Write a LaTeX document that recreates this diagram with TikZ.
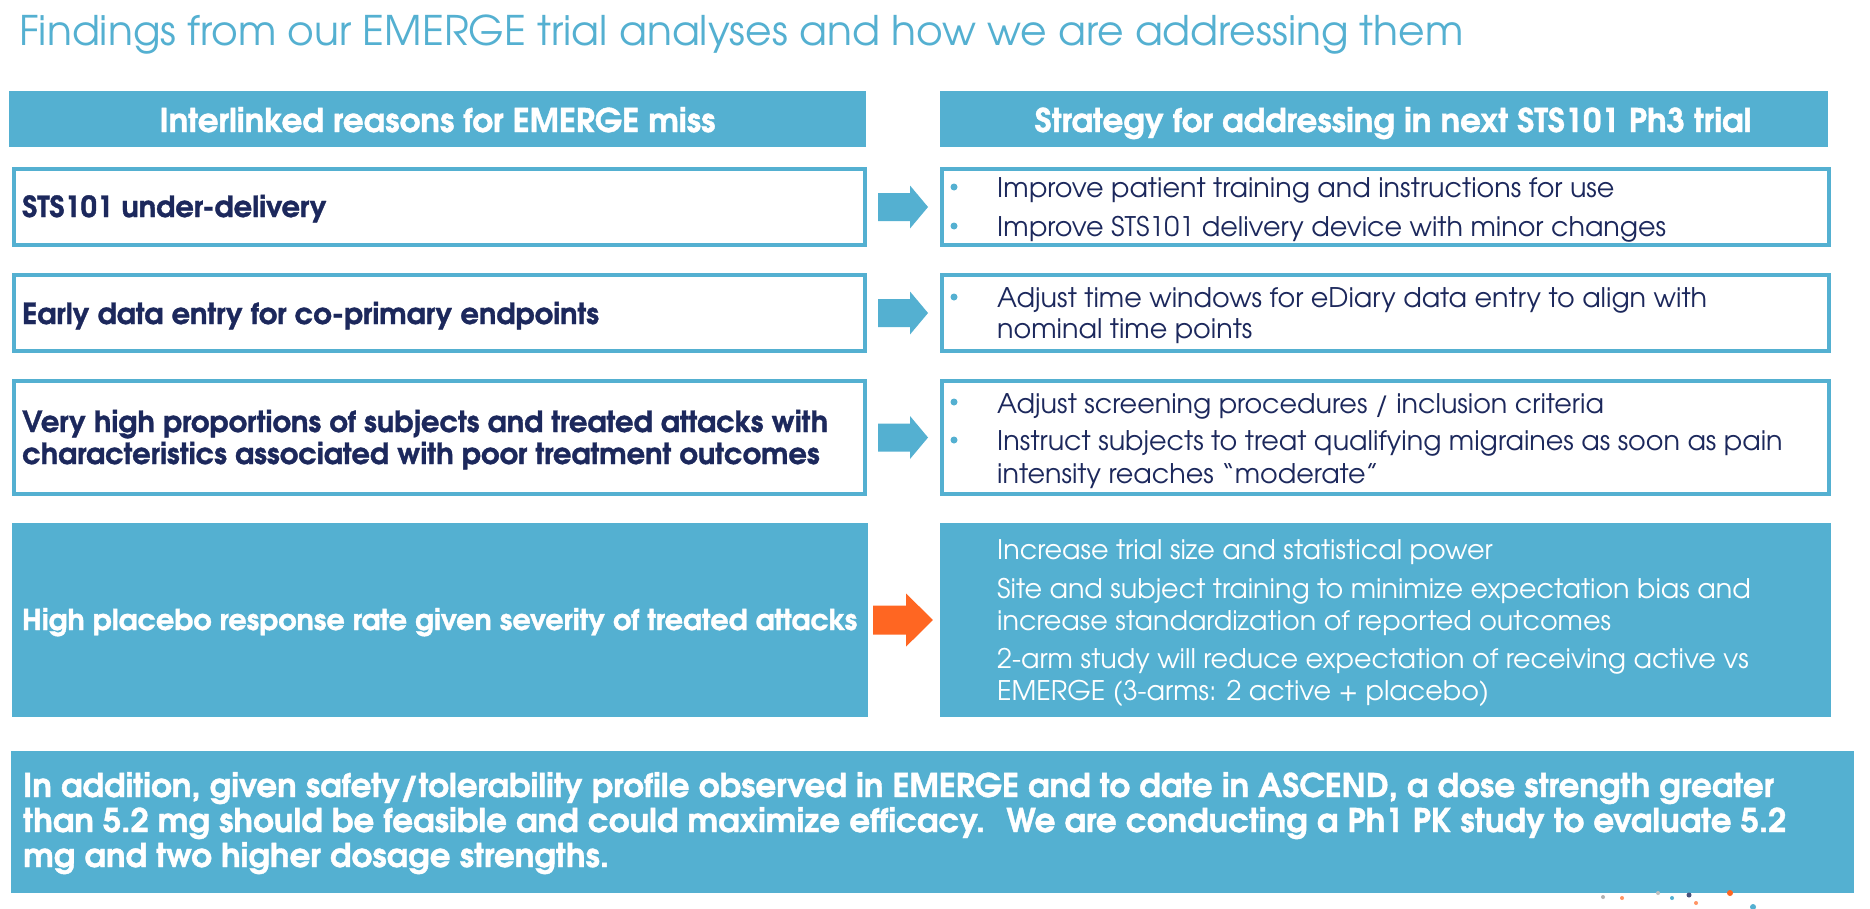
\documentclass[tikz,border=0pt]{standalone}
\usepackage{fontspec}
\setmainfont{texgyreadventor}[Extension=.otf, UprightFont=*-regular, BoldFont=*-bold, ItalicFont=*-italic, BoldItalicFont=*-bolditalic, BoldFeatures={FakeBold=1.2}]
\usetikzlibrary{calc}
\definecolor{ltblue}{RGB}{84,176,209}
\definecolor{navy}{RGB}{28,40,92}
\definecolor{orng}{RGB}{255,102,34}
\tikzset{
 ttl/.style={anchor=base west, inner sep=0pt, text=ltblue, font=\fontsize{40.8}{48}\selectfont},
 hdrbar/.style={fill=ltblue, draw=none, inner sep=0pt},
 hdrtxt/.style={anchor=base, inner sep=0pt, text=white, font=\bfseries\fontsize{32.6}{38}\selectfont},
 obox/.style={draw=ltblue, line width=4pt, fill=white, inner sep=0pt},
 fbox/.style={fill=ltblue, draw=none, inner sep=0pt},
 lbl/.style={anchor=base west, inner sep=0pt, text=navy, font=\bfseries\fontsize{29}{32}\selectfont},
 lblw/.style={lbl, text=white, font=\bfseries\fontsize{28.7}{32}\selectfont},
 rtx/.style={anchor=base west, inner sep=0pt, text=navy, font=\fontsize{27}{32}\selectfont},
 rtxw/.style={rtx, text=white},
 btx/.style={anchor=base west, inner sep=0pt, text=white, font=\bfseries\fontsize{32.6}{36}\selectfont},
 bul/.style={circle, fill=ltblue, draw=none, inner sep=0pt, minimum size=7pt},
 blarrow/.style={fill=ltblue, draw=none},
 orarrow/.style={fill=orng, draw=none},
 dot/.style={circle, draw=none, inner sep=0pt, minimum size=4pt},
}
\begin{document}
\begin{tikzpicture}[x=1pt,y=-1pt]
\useasboundingbox (0,0) rectangle (1870,908);
\fill[white] (0,0) rectangle (1870,908);
% title
\node[ttl] (title) at (19,45) {Findings from our EMERGE trial analyses and how we are addressing them};
% headers
\node[hdrbar, minimum width=857pt, minimum height=56pt] (H1) at (437.5,119) {};
\node[hdrtxt] (H1t) at (437.5,132) {Interlinked reasons for EMERGE miss};
\node[hdrbar, minimum width=888pt, minimum height=56pt] (H2) at (1384,119) {};
\node[hdrtxt] (H2t) at (1393,132) {Strategy for addressing in next STS101 Ph3 trial};
% left boxes
\node[obox, minimum width=851pt, minimum height=76pt] (L1) at (439.5,207) {};
\node[obox, minimum width=851pt, minimum height=76pt] (L2) at (439.5,313) {};
\node[obox, minimum width=851pt, minimum height=113pt] (L3) at (439.5,437.5) {};
\node[fbox, minimum width=856pt, minimum height=194pt] (L4) at (440,620) {};
% right boxes
\node[obox, minimum width=887pt, minimum height=76pt] (R1) at (1385.5,207) {};
\node[obox, minimum width=887pt, minimum height=76pt] (R2) at (1385.5,313) {};
\node[obox, minimum width=887pt, minimum height=113pt] (R3) at (1385.5,437.5) {};
\node[fbox, minimum width=891pt, minimum height=194pt] (R4) at (1385.5,620) {};
% bottom box
\node[fbox, minimum width=1843pt, minimum height=142pt] (B) at (932.5,822) {};
% left texts
\node[lbl] (L1a) at (22,217) {STS101 under-delivery};
\node[lbl] (L2a) at (22,324) {Early data entry for co-primary endpoints};
\node[lbl] (L3a) at (22,432) {Very high proportions of subjects and treated attacks with};
\node[lbl] (L3b) at (22,464) {characteristics associated with poor treatment outcomes};
\node[lblw] (L4a) at (22,630) {High placebo response rate given severity of treated attacks};
% right texts
\node[bul] (b1) at (954,187) {};
\node[bul] (b2) at (954,226) {};
\node[rtx] (R1a) at (997,197) {Improve patient training and instructions for use};
\node[rtx] (R1b) at (997,236) {Improve STS101 delivery device with minor changes};
\node[bul] (b3) at (954,297) {};
\node[rtx] (R2a) at (997,307) {Adjust time windows for eDiary data entry to align with};
\node[rtx] (R2b) at (997,338) {nominal time points};
\node[bul] (b4) at (954,402) {};
\node[bul] (b5) at (954,440) {};
\node[rtx] (R3a) at (997,413) {Adjust screening procedures / inclusion criteria};
\node[rtx] (R3b) at (997,450) {Instruct subjects to treat qualifying migraines as soon as pain};
\node[rtx] (R3c) at (997,483) {intensity reaches “moderate”};
\node[rtxw] (R4a) at (997,559) {Increase trial size and statistical power};
\node[rtxw] (R4b) at (997,598) {Site and subject training to minimize expectation bias and};
\node[rtxw] (R4c) at (997,630) {increase standardization of reported outcomes};
\node[rtxw] (R4d) at (997,668) {2-arm study will reduce expectation of receiving active vs};
\node[rtxw] (R4e) at (997,700) {EMERGE (3-arms: 2 active + placebo)};
% bottom text
\node[btx] (Ba) at (23,797) {In addition, given safety/tolerability profile observed in EMERGE and to date in ASCEND, a dose strength greater};
\node[btx] (Bb) at (23,832) {than 5.2 mg should be feasible and could maximize efficacy.~ We are conducting a Ph1 PK study to evaluate 5.2};
\node[btx] (Bc) at (23,867) {mg and two higher dosage strengths.};
% arrows
\foreach \a/\b in {L1/R1, L2/R2, L3/R3}{
 \fill[blarrow] ($(\a.east)+(11,-14)$) -- ++(32,0) -- ++(0,-7.5) -- ($(\b.west)+(-12,0)$) -- ($(\a.east)+(43,21.5)$) -- ++(0,-7.5) -- ++(-32,0) -- cycle;
}
\fill[orarrow] ($(L4.east)+(5,-14.5)$) -- ++(33,0) -- ++(0,-12) -- ($(R4.west)+(-7,0)$) -- ($(L4.east)+(38,26.5)$) -- ++(0,-12) -- ++(-33,0) -- cycle;
% logo dots
\node[dot, fill=gray!60] (d1) at (1603,897) {};
\node[dot, fill=orng!70] (d2) at (1622,898) {};
\node[dot, fill=gray!50] (d3) at (1658,893) {};
\node[dot, fill=ltblue] (d4) at (1672,898) {};
\node[dot, fill=navy!80, minimum size=5pt] (d5) at (1689,895) {};
\node[dot, fill=orng!70] (d6) at (1696,903) {};
\node[dot, fill=orng, minimum size=6pt] (d7) at (1730,893) {};
\node[dot, fill=ltblue, minimum size=6pt] (d8) at (1753,907) {};
\end{tikzpicture}
\end{document}
